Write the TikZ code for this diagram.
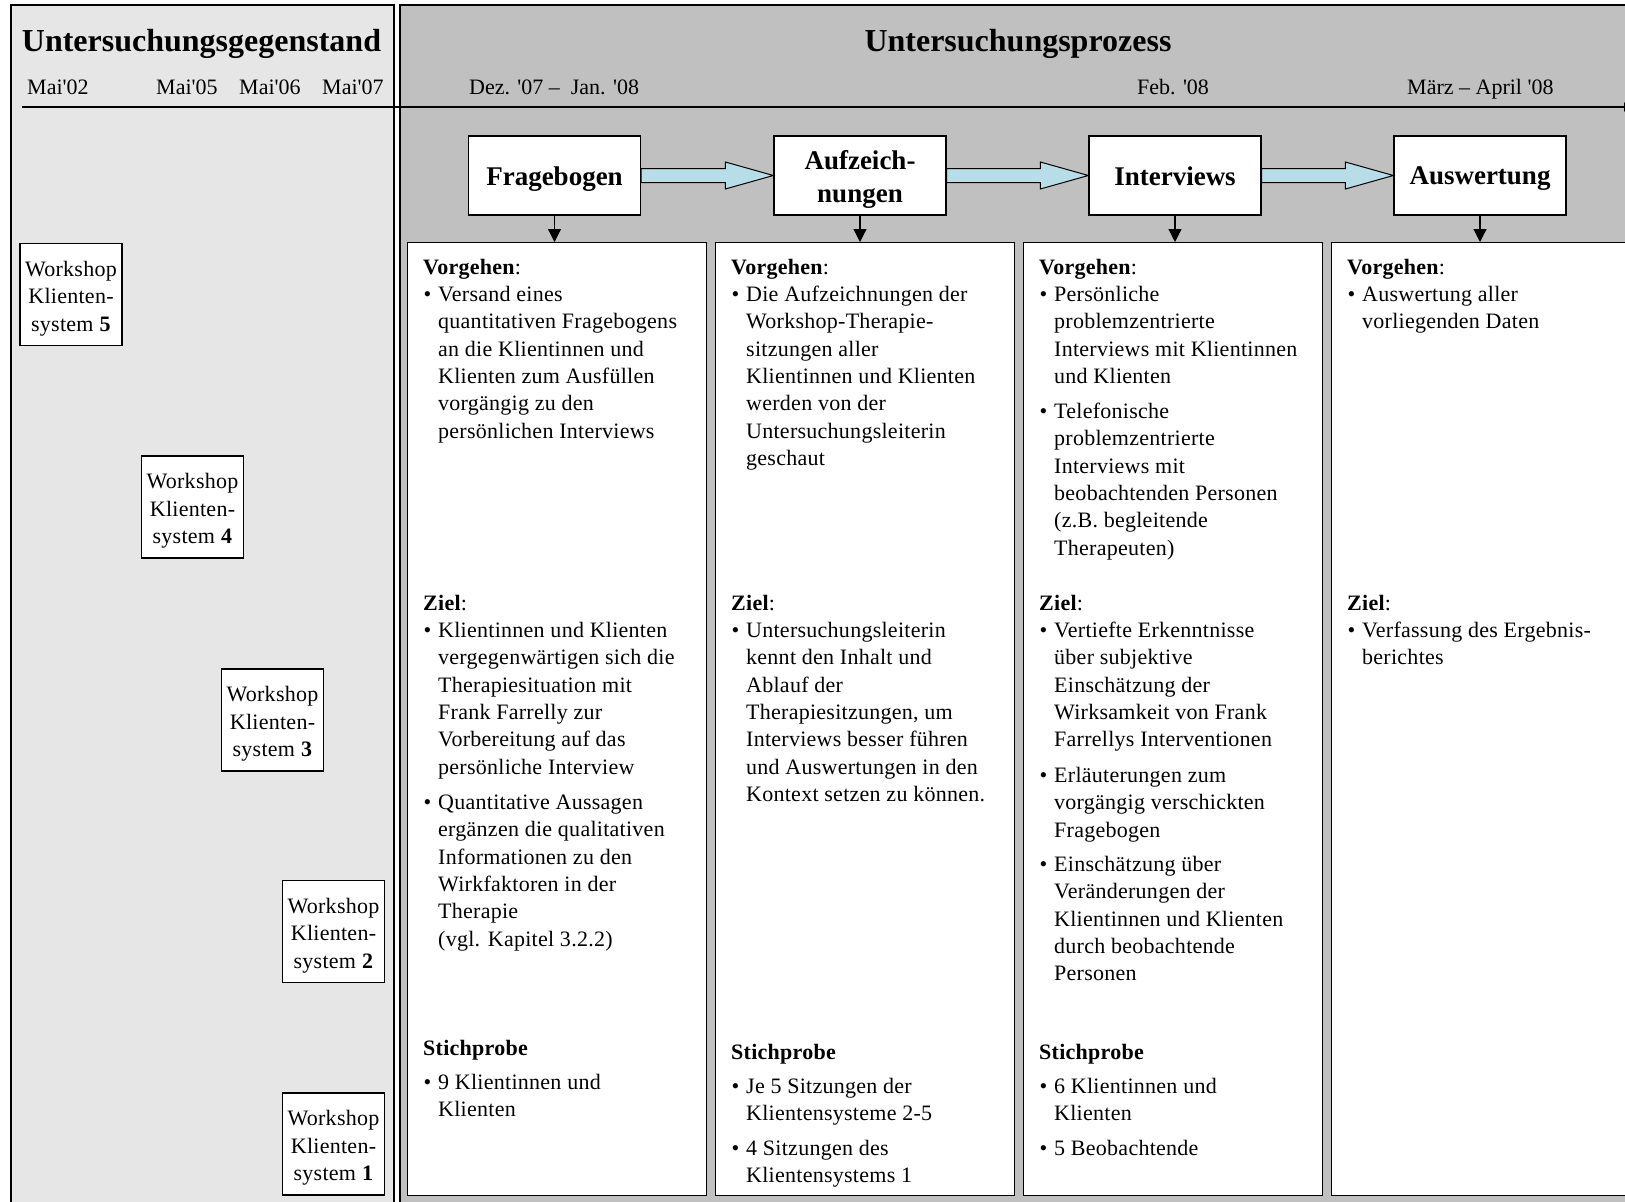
\documentclass[tikz,border=0pt]{standalone}
\usepackage{fontspec}
\setmainfont{Liberation Serif}
\newfontfamily\aposfont{Liberation Serif}
\newfontfamily\spacedfont{Liberation Serif}[LetterSpace=1.2,Ligatures=TeX]
\usetikzlibrary{arrows.meta,calc}
\definecolor{leftgray}{RGB}{230,230,230}
\definecolor{rightgray}{RGB}{192,192,192}
\definecolor{arrowblue}{RGB}{183,222,232}
\newcommand{\bodyfont}{\spacedfont\fontsize{22}{27.4}\selectfont}
\newcommand{\apo}{{\aposfont'}}
\tikzset{
  panel/.style={draw=black, line width=1.3pt},
  procbox/.style={draw=black, fill=white, line width=1.3pt, minimum width=172pt, minimum height=79pt, inner sep=0pt},
  proctext/.style={align=center, font=\fontsize{27}{33}\selectfont\bfseries, inner sep=0pt},
  colbox/.style={draw=black, fill=white, line width=1.3pt, anchor=north west, inner sep=0pt, minimum height=953pt},
  wsbox/.style={draw=black, fill=white, line width=1.3pt, minimum width=102pt, minimum height=102pt, inner sep=0pt},
  wstext/.style={align=center, font=\bodyfont, inner sep=0pt},
  para/.style={anchor=north west, inner sep=0pt, align=left, font=\bodyfont},
  datelabel/.style={anchor=base west, inner sep=0pt, font=\fontsize{22}{26}\selectfont},
  paneltitle/.style={anchor=base, inner sep=0pt, font=\fontsize{32}{38}\selectfont\bfseries},
  blockarrow/.style={draw=black, fill=arrowblue, line width=1pt, line join=miter},
  downarrow/.style={draw=black, line width=1.2pt, -{Triangle[length=13pt,width=13pt]}},
}
\newcommand{\colhead}[4]{\node[para] (#1) at ($(#2.north west)+(16,#3+3)$) {\strut #4};}
\newcommand{\colbullet}[4]{\node[para] (#1) at ($(#2.north west)+(31,#3+3)$) {\strut\llap{\textbullet\hskip 7pt}#4};}
\newcommand{\blockarr}[2]{\draw[blockarrow] ($(#1.east)+(0,-7)$) -- ($(#2.west)+(-48,-7)$) -- ($(#2.west)+(-48,-13.5)$) -- (#2.west) -- ($(#2.west)+(-48,13.5)$) -- ($(#2.west)+(-48,7)$) -- ($(#1.east)+(0,7)$) -- cycle;}
\newcommand{\wsnode}[3]{\node[wsbox] (#1) at (#2) {};
  \node[wstext] (#1t) at ($(#1.center)+(0,4)$) {Workshop\\Klienten-\\system \textbf{#3}};}
\newcommand{\procnode}[4]{\node[procbox] (#1) at (#2) {};
  \node[proctext] (#1t) at ($(#1.center)+(0,#3)$) {#4};}
\begin{document}
\begin{tikzpicture}[x=1pt,y=-1pt]
\useasboundingbox (0,0) rectangle (1625,1202);
\clip (0,0) rectangle (1625,1202);
\fill[white] (0,0) rectangle (1625,1202);
% panels
\draw[panel, fill=leftgray] (11,5) rectangle (394,1220);
\draw[panel, fill=rightgray] (400,5) rectangle (1645,1220);
% titles
\node[paneltitle] (tleft) at (201.5,51) {Untersuchungsgegenstand};
\node[paneltitle] (tright) at (1018,51) {Untersuchungsprozess};
% timeline
\coordinate (tlstart) at (22,107);
\coordinate (tlend) at (1634,107);
\draw[line width=1.3pt, -{Triangle[length=10pt,width=9pt]}] (tlstart) -- (tlend);
\node[datelabel] (d1) at (27,94) {Mai\apo02};
\node[datelabel] (d2) at (156,94) {Mai\apo05};
\node[datelabel] (d3) at (239,94) {Mai\apo06};
\node[datelabel] (d4) at (322,94) {Mai\apo07};
\node[datelabel] (d5) at (469,94) {Dez. \apo07 –\ \ Jan. \apo08};
\node[datelabel] (d6) at (1137,94) {Feb. \apo08};
\node[datelabel] (d7) at (1407,94) {März – April \apo08};
% workshop boxes
\wsnode{ws5}{71,294.5}{5}
\wsnode{ws4}{192.5,507}{4}
\wsnode{ws3}{272.5,720}{3}
\wsnode{ws2}{333.5,931.5}{2}
\wsnode{ws1}{333.5,1144}{1}
% process boxes
\procnode{frag}{554.5,175.5}{3.5}{Fragebogen}
\procnode{aufz}{860,175.5}{4}{Aufzeich-\\nungen}
\procnode{intv}{1175,175.5}{0.5}{Interviews}
\procnode{ausw}{1480,175.5}{3.5}{Auswertung}
\blockarr{frag}{aufz}
\blockarr{aufz}{intv}
\blockarr{intv}{ausw}
% columns
\node[colbox, minimum width=299pt] (c1) at (407,242) {};
\node[colbox, minimum width=299pt] (c2) at (715,242) {};
\node[colbox, minimum width=299pt] (c3) at (1023,242) {};
\node[colbox, minimum width=320pt] (c4) at (1331,242) {};
\draw[downarrow] (frag.south) -- (frag.south |- c1.north);
\draw[downarrow] (aufz.south) -- (aufz.south |- c2.north);
\draw[downarrow] (intv.south) -- (intv.south |- c3.north);
\draw[downarrow] (ausw.south) -- (ausw.south |- c4.north);
% column 1
\colhead{c1v}{c1}{10}{\textbf{Vorgehen}:}
\colbullet{c1vb}{c1}{37}{Versand eines\\quantitativen Fragebogens\\an die Klientinnen und\\Klienten zum Ausfüllen\\vorgängig zu den\\persönlichen Interviews}
\colhead{c1z}{c1}{346}{\textbf{Ziel}:}
\colbullet{c1zb}{c1}{373}{Klientinnen und Klienten\\vergegenwärtigen sich die\\Therapiesituation mit\\Frank Farrelly zur\\Vorbereitung auf das\\persönliche Interview}
\colbullet{c1zc}{c1}{545}{Quantitative Aussagen\\ergänzen die qualitativen\\Informationen zu den\\Wirkfaktoren in der\\Therapie\\(vgl. Kapitel 3.2.2)}
\colhead{c1s}{c1}{791}{\textbf{Stichprobe}}
\colbullet{c1sb}{c1}{825}{9 Klientinnen und\\Klienten}
% column 2
\colhead{c2v}{c2}{10}{\textbf{Vorgehen}:}
\colbullet{c2vb}{c2}{37}{Die Aufzeichnungen der\\Workshop-Therapie-\\sitzungen aller\\Klientinnen und Klienten\\werden von der\\Untersuchungsleiterin\\geschaut}
\colhead{c2z}{c2}{346}{\textbf{Ziel}:}
\colbullet{c2zb}{c2}{373}{Untersuchungsleiterin\\kennt den Inhalt und\\Ablauf der\\Therapiesitzungen, um\\Interviews besser führen\\und Auswertungen in den\\Kontext setzen zu können.}
\colhead{c2s}{c2}{795}{\textbf{Stichprobe}}
\colbullet{c2sb}{c2}{829}{Je 5 Sitzungen der\\Klientensysteme 2-5}
\colbullet{c2sc}{c2}{891}{4 Sitzungen des\\Klientensystems 1}
% column 3
\colhead{c3v}{c3}{10}{\textbf{Vorgehen}:}
\colbullet{c3vb}{c3}{37}{Persönliche\\problemzentrierte\\Interviews mit Klientinnen\\und Klienten}
\colbullet{c3vc}{c3}{154}{Telefonische\\problemzentrierte\\Interviews mit\\beobachtenden Personen\\(z.B. begleitende\\Therapeuten)}
\colhead{c3z}{c3}{346}{\textbf{Ziel}:}
\colbullet{c3zb}{c3}{373}{Vertiefte Erkenntnisse\\über subjektive\\Einschätzung der\\Wirksamkeit von Frank\\Farrellys Interventionen}
\colbullet{c3zc}{c3}{518}{Erläuterungen zum\\vorgängig verschickten\\Fragebogen}
\colbullet{c3zd}{c3}{607}{Einschätzung über\\Veränderungen der\\Klientinnen und Klienten\\durch beobachtende\\Personen}
\colhead{c3s}{c3}{795}{\textbf{Stichprobe}}
\colbullet{c3sb}{c3}{829}{6 Klientinnen und\\Klienten}
\colbullet{c3sc}{c3}{891}{5 Beobachtende}
% column 4
\colhead{c4v}{c4}{10}{\textbf{Vorgehen}:}
\colbullet{c4vb}{c4}{37}{Auswertung aller\\vorliegenden Daten}
\colhead{c4z}{c4}{346}{\textbf{Ziel}:}
\colbullet{c4zb}{c4}{373}{Verfassung des Ergebnis-\\berichtes}
\end{tikzpicture}
\end{document}
